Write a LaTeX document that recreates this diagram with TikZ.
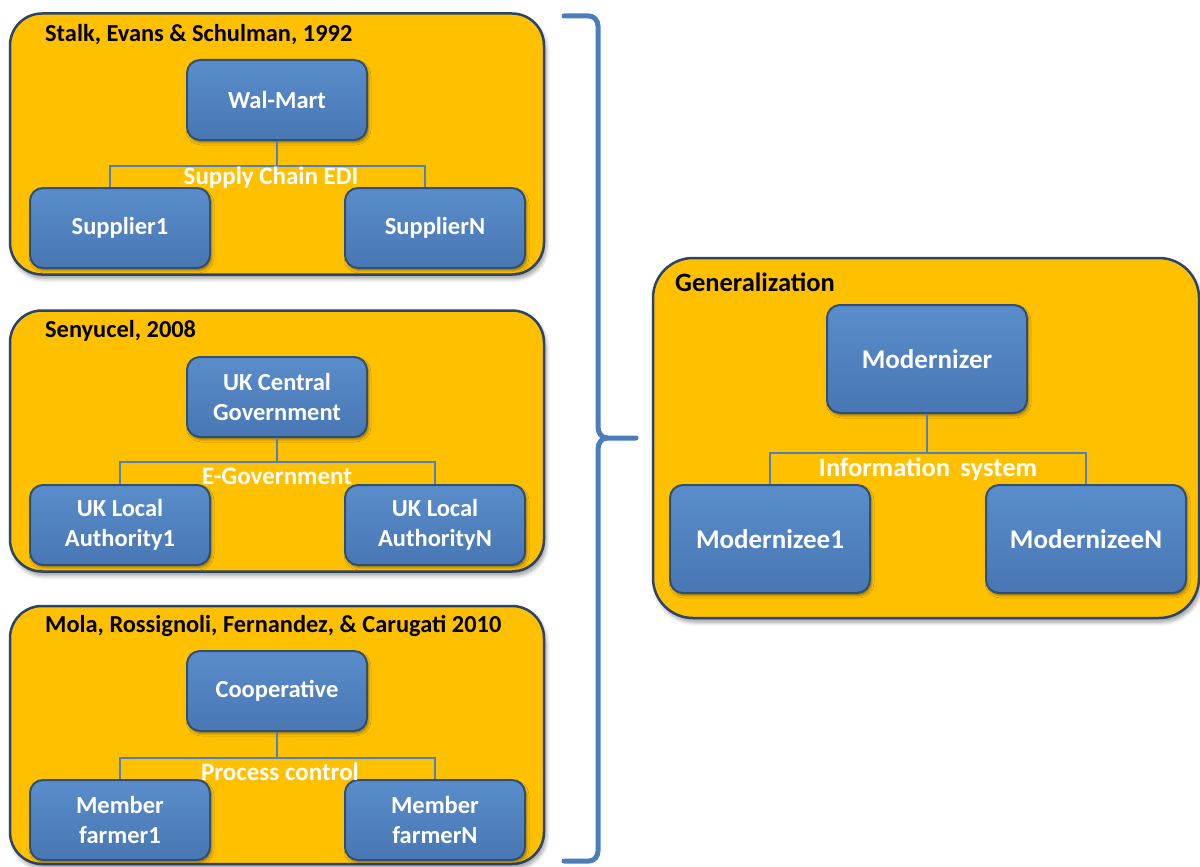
\documentclass[tikz,border=0pt]{standalone}
\usepackage{fontspec}
\setmainfont{Carlito}
\usetikzlibrary{shadows,shadows.blur,calc}
\definecolor{gold}{HTML}{FFC000}
\definecolor{panelborder}{HTML}{2B4468}
\definecolor{boxblue}{HTML}{4F81BD}
\definecolor{boxtop}{HTML}{5A8DCB}
\definecolor{boxbottom}{HTML}{4877B3}
\definecolor{boxborder}{HTML}{2E4F78}
\definecolor{linkblue}{HTML}{4F81BD}
\definecolor{bracketblue}{HTML}{4A7EBB}
\tikzset{
  panel/.style={draw=panelborder, line width=2.5pt, fill=gold, rounded corners=32pt,
    blur shadow={shadow xshift=2pt, shadow yshift=-4pt, shadow blur radius=4pt, shadow blur steps=6}},
  paneltitle/.style={anchor=west, font=\bfseries\fontsize{24.4}{28}\selectfont, text=black, inner sep=0pt},
  bluebox/.style={draw=boxborder, line width=2pt, top color=boxtop, bottom color=boxbottom, rounded corners=13pt,
    text=white, font=\bfseries\fontsize{24.5}{30}\selectfont, align=center,
    minimum width=180pt, minimum height=80pt, inner sep=2pt,
    blur shadow={shadow xshift=1.5pt, shadow yshift=-2.5pt, shadow blur radius=2.5pt, shadow blur steps=5}},
  bigbox/.style={bluebox, minimum width=200pt, minimum height=108pt, font=\bfseries\fontsize{27}{32}\selectfont},
  conn/.style={draw=linkblue, line width=1.3pt},
  connlabel/.style={text=white, font=\bfseries\fontsize{25}{28}\selectfont, inner sep=0pt},
  biglabel/.style={connlabel, font=\bfseries\fontsize{26.5}{30}\selectfont},
  bracket/.style={draw=bracketblue, line width=5pt, line cap=round, line join=round}
}
\begin{document}
\begin{tikzpicture}[x=1pt,y=-1pt]
\useasboundingbox (0,0) rectangle (1200,867);
% panel 1
\node[panel, minimum width=534pt, minimum height=261pt] (p1) at (277,144) {};
\node[paneltitle] (t1) at (45,35) {Stalk, Evans \& Schulman, 1992};
\node[bluebox] (walmart) at (277,100) {Wal-Mart};
\node[bluebox] (s1) at (120,228) {Supplier1};
\node[bluebox] (sN) at (435,228) {SupplierN};
\draw[conn] (walmart.south) -- ++(0,25) coordinate (j1);
\draw[conn] ([xshift=-10pt]s1.north) |- (j1) -| ([xshift=-10pt]sN.north);
\node[connlabel] (l1) at (271,178) {Supply Chain EDI};
% panel 2
\node[panel, minimum width=534pt, minimum height=261pt] (p2) at (277,441) {};
\node[paneltitle] (t2) at (45,331) {Senyucel, 2008};
\node[bluebox] (ukcg) at (277,397) {UK Central\\Government};
\node[bluebox] (ukl1) at (120,525) {UK Local\\Authority1};
\node[bluebox] (uklN) at (435,525) {UK Local\\AuthorityN};
\draw[conn] (ukcg.south) -- ++(0,24) coordinate (j2);
\draw[conn] (ukl1.north) |- (j2) -| (uklN.north);
\node[connlabel] (l2) at (277,476) {E-Government};
% panel 3
\node[panel, minimum width=534pt, minimum height=258pt] (p3) at (277,735) {};
\node[paneltitle] (t3) at (45,626) {Mola, Rossignoli, Fernandez, \& Carugati 2010};
\node[bluebox] (coop) at (277,691) {Cooperative};
\node[bluebox] (m1) at (120,820) {Member\\farmer1};
\node[bluebox] (mN) at (435,820) {Member\\farmerN};
\draw[conn] (coop.south) -- ++(0,26) coordinate (j3);
\draw[conn] (m1.north) |- (j3) -| (mN.north);
\node[connlabel] (l3) at (280,772) {Process control};
% bracket
\draw[bracket] (564,16) -- (589,16) to[out=0,in=90] (598,26) -- (598,427) to[out=-90,in=180] (607,438) -- (636,438);
\draw[bracket] (607,438) to[out=180,in=90] (598,449) -- (598,851) to[out=-90,in=0] (589,861) -- (564,861);
% generalization
\node[panel, minimum width=546pt, minimum height=360pt, rounded corners=40pt] (pg) at (926,438) {};
\node[paneltitle, font=\bfseries\fontsize{26.5}{30}\selectfont] (tg) at (675,282) {Generalization};
\node[bigbox] (mzr) at (927,359) {Modernizer};
\node[bigbox] (mz1) at (770,539) {Modernizee1};
\node[bigbox] (mzN) at (1086,539) {ModernizeeN};
\draw[conn] (mzr.south) -- ++(0,39) coordinate (jg);
\draw[conn] (mz1.north) |- (jg) -| (mzN.north);
\node[biglabel] (lg) at (928,469) {Information\, system};
\end{tikzpicture}
\end{document}
